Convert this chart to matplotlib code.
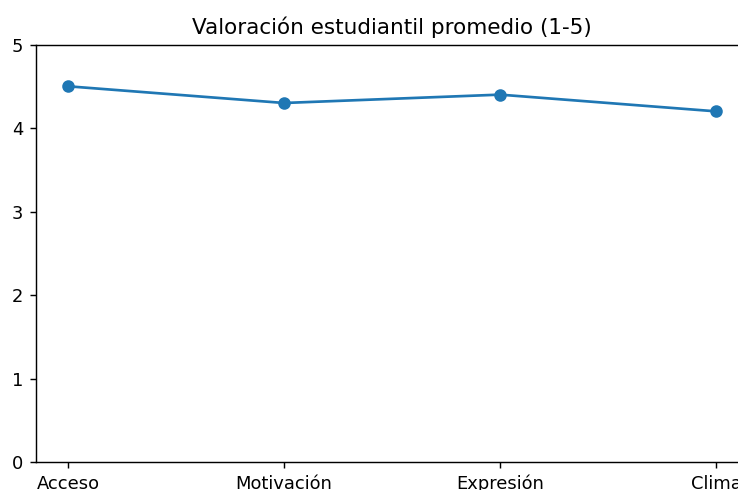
import matplotlib.pyplot as plt

categorias = ['Acceso', 'Motivación', 'Expresión', 'Clima']
valores = [4.5, 4.3, 4.4, 4.2]

# la referencia parece renderizada a mayor resolución y recortada
dpi = 129
fig = plt.figure(figsize=(738 / dpi, 490 / dpi), dpi=dpi)
ax = fig.add_axes([0.0482, 0.0571, 0.9659, 0.852])
ax.plot(categorias, valores, marker='o')
ax.set_ylim(0, 5)
ax.set_title('Valoración estudiantil promedio (1-5)')
fig.savefig('out.png', dpi=dpi)
